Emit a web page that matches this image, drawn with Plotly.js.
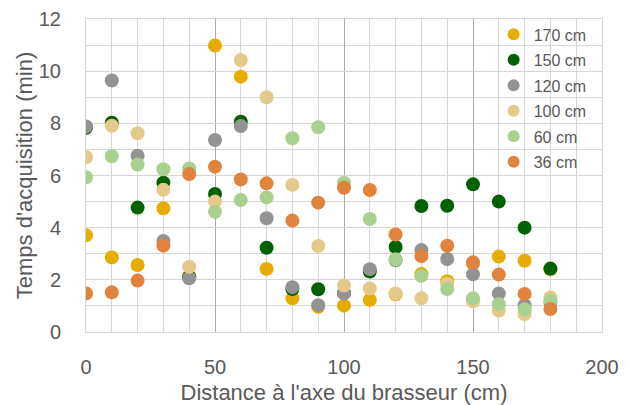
<!DOCTYPE html>
<html>
<head>
<meta charset="utf-8">
<script src="https://cdn.plot.ly/plotly-3.0.1.min.js"></script>
<style>
  html, body { margin: 0; padding: 0; background: #fff; }
  #chart { width: 629px; height: 405px; }
</style>
</head>
<body>
<div id="chart"></div>
<script>
// Distance from the stirrer axis (cm)
const distance = [0, 10, 20, 30, 40, 50, 60, 70, 80, 90, 100, 110, 120, 130, 140, 150, 160, 170, 180];

// Acquisition time (min) for each measurement height
const t170 = [3.71, 2.86, 2.57, 4.74, 2.15, 10.98, 9.79, 2.42, 1.29, 0.97, 1.01, 1.23, 1.45, 2.22, 1.95, 2.62, 2.89, 2.73, 2.40];
const t150 = [7.83, 8.02, 4.77, 5.72, 2.10, 5.29, 8.06, 3.23, 1.65, 1.64, 1.50, 2.32, 3.26, 4.83, 4.84, 5.66, 5.00, 4.00, 2.43];
const t120 = [7.88, 9.64, 6.76, 3.49, 2.06, 7.36, 7.90, 4.36, 1.72, 1.03, 1.48, 2.41, 2.75, 3.14, 2.80, 2.21, 1.48, 1.03, 1.15];
const t100 = [6.70, 7.91, 7.62, 5.45, 2.50, 5.00, 10.43, 9.00, 5.64, 3.30, 1.78, 1.67, 1.48, 1.29, 1.85, 1.18, 0.82, 0.69, 1.32];
const t60  = [5.93, 6.74, 6.42, 6.24, 6.27, 4.61, 5.06, 5.16, 7.43, 7.85, 5.72, 4.33, 2.79, 2.15, 1.65, 1.29, 1.07, 0.87, 1.20];
const t36  = [1.48, 1.52, 1.97, 3.31, 6.06, 6.34, 5.85, 5.70, 4.27, 4.96, 5.53, 5.44, 3.74, 2.91, 3.31, 2.67, 2.20, 1.46, 0.88];

const seriesNames = ['170 cm', '150 cm', '120 cm', '100 cm', '60 cm', '36 cm'];
const seriesValues = [t170, t150, t120, t100, t60, t36];
const seriesColors = ['#E6AC00', '#006100', '#939393', '#E3CA8B', '#A9D08E', '#E0833D'];

const FONT = 'Liberation Sans, Arial, sans-serif';
const TEXT = '#595959';

const traces = seriesNames.map((name, i) => ({
  type: 'scatter',
  mode: 'markers',
  name: name,
  legendgroup: name,
  x: distance,
  y: seriesValues[i],
  marker: { size: 14, color: seriesColors[i], line: { width: 0 } },
  hoverinfo: 'x+y+name'
}));

const layout = {
  width: 629,
  height: 405,
  margin: { l: 86, r: 27, t: 19, b: 73, pad: 0 },
  paper_bgcolor: '#ffffff',
  plot_bgcolor: '#ffffff',
  font: { family: FONT, color: TEXT },
  showlegend: true,
  legend: {
    x: 0.79, xanchor: 'left',
    y: 1.005, yanchor: 'top',
    bgcolor: 'rgba(0,0,0,0)',
    borderwidth: 0,
    font: { family: FONT, size: 16, color: TEXT },
    itemsizing: 'constant',
    tracegroupgap: 1.7,
    traceorder: 'grouped'
  },
  xaxis: {
    range: [0, 200],
    tick0: 0, dtick: 50,
    showgrid: true, gridcolor: '#ABABAB', gridwidth: 1,
    minor: { dtick: 10, showgrid: true, gridcolor: '#D6D6D6', gridwidth: 1 },
    zeroline: false,
    showline: true, mirror: true, linecolor: '#D6D6D6', linewidth: 1,
    ticks: '',
    tickfont: { family: FONT, size: 20, color: TEXT },
    ticklabelstandoff: 17,
    title: { text: 'Distance à l\'axe du brasseur (cm)', font: { family: FONT, size: 22, color: TEXT }, standoff: 11 },
    automargin: false,
    fixedrange: true
  },
  yaxis: {
    range: [0, 12],
    tick0: 0, dtick: 2,
    showgrid: true, gridcolor: '#D6D6D6', gridwidth: 1,
    minor: { dtick: 1, showgrid: true, gridcolor: '#D6D6D6', gridwidth: 1 },
    zeroline: false,
    showline: true, mirror: true, linecolor: '#D6D6D6', linewidth: 1,
    ticks: '',
    tickfont: { family: FONT, size: 20, color: TEXT },
    ticklabelstandoff: 20,
    title: { text: 'Temps d\'acquisition (min)', font: { family: FONT, size: 22, color: TEXT }, standoff: 0 },
    automargin: false,
    fixedrange: true
  }
};

Plotly.newPlot('chart', traces, layout, { displayModeBar: false, staticPlot: true });
</script>
</body>
</html>
